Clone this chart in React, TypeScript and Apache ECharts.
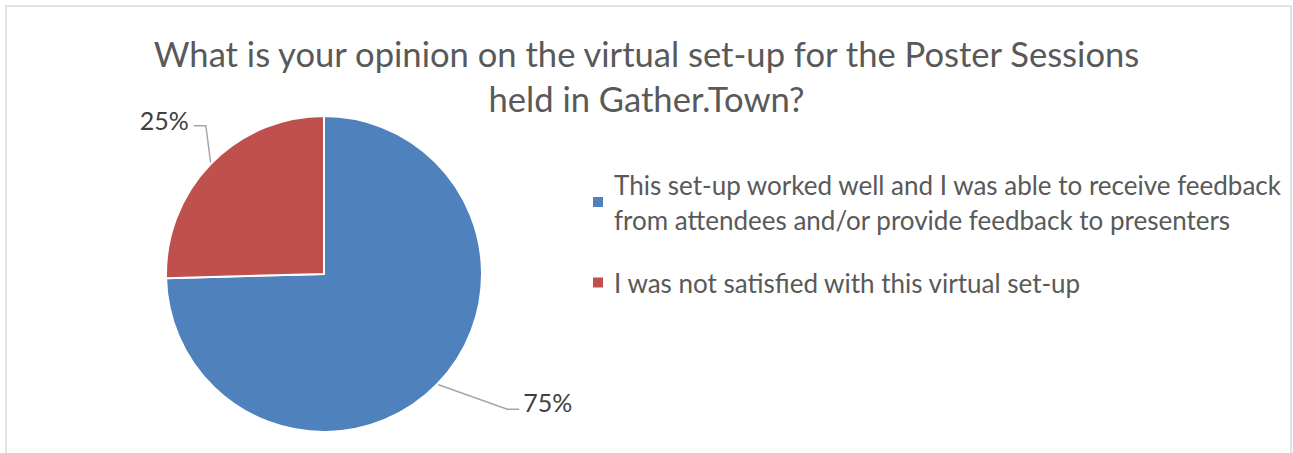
import React, { useEffect, useRef } from "react";
import * as echarts from "echarts";

const titleLines = [
  "What is your opinion on the virtual set-up for the Poster Sessions",
  "held in Gather.Town?",
];
const categories = [
  "This set-up worked well and I was able to receive feedback\nfrom attendees and/or provide feedback to presenters",
  "I was not satisfied with this virtual set-up",
];
const values = [44, 15];
const colors = ["#4F81BD", "#C0504D"];

const FONT = "Lato";

export default function App() {
  const ref = useRef<HTMLDivElement>(null);
  useEffect(() => {
    if (!ref.current) return;
    const chart = echarts.init(ref.current, undefined, { renderer: "svg" });
    const LH = 35;
    const legendText = {
      fontFamily: FONT,
      fontSize: 26,
      color: "#595959",
      lineHeight: LH,
    };
    chart.setOption({
      animation: false,
      backgroundColor: "#ffffff",
      title: {
        text: titleLines.join("\n"),
        left: "center",
        top: 26,
        textStyle: {
          fontFamily: FONT,
          fontSize: 34.6,
          fontWeight: "normal",
          color: "#595959",
          lineHeight: 45,
        },
      },
      legend: [
        {
          left: 588,
          top: 144.5,
          orient: "vertical",
          icon: "rect",
          itemWidth: 10,
          itemHeight: 10,
          itemStyle: { borderWidth: 0 },
          selectedMode: false,
          data: [
            {
              name: categories[0],
              textStyle: { padding: [LH, 0, 0, 6] },
            },
          ],
          textStyle: legendText,
        },
        {
          left: 588,
          top: 260,
          orient: "vertical",
          icon: "rect",
          itemWidth: 10,
          itemHeight: 10,
          itemStyle: { borderWidth: 0 },
          selectedMode: false,
          data: [{ name: categories[1], textStyle: { padding: [0, 0, 0, 6] } }],
          textStyle: legendText,
        },
      ],
      graphic: [
        {
          type: "rect",
          shape: { x: 6, y: 6, width: 1285, height: 470 },
          style: { fill: "none", stroke: "#d9d9d9", lineWidth: 1.5 },
          silent: true,
        },
      ],
      series: [
        {
          type: "pie",
          center: [324, 274],
          radius: 158,
          startAngle: 90,
          clockwise: true,
          data: categories.map((c, i) => ({
            name: c,
            value: values[i],
            itemStyle: { color: colors[i] },
          })),
          itemStyle: { borderColor: "#ffffff", borderWidth: 2 },
          label: {
            show: true,
            position: "outside",
            formatter: (p: any) => Math.round(p.percent) + "%",
            fontFamily: FONT,
            fontSize: 25,
            color: "#404040",
          },
          labelLine: {
            show: true,
            length: 20,
            length2: 12,
            lineStyle: { color: "#a6a6a6", width: 1.5 },
          },
          labelLayout: (params: any) => {
            const pts = params.labelLinePoints;
            if (!pts) return {};
            const e = pts[0];
            if (params.dataIndex === 0) {
              const b = [e[0] + 70, e[1] + 25];
              const t = [b[0] + 12, b[1]];
              return {
                x: t[0] + 4,
                y: t[1] - 7,
                align: "left",
                verticalAlign: "middle",
                labelLinePoints: [e, b, t],
              };
            }
            const b = [e[0] - 5, e[1] - 38];
            const t = [b[0] - 12, b[1]];
            return {
              x: t[0] - 5,
              y: t[1] - 6,
              align: "right",
              verticalAlign: "middle",
              labelLinePoints: [e, b, t],
            };
          },
        },
      ],
    });
    return () => chart.dispose();
  }, []);
  return (
    <div
      ref={ref}
      style={{ position: "absolute", left: 0, top: 0, width: 1293, height: 453, background: "#fff" }}
    />
  );
}
